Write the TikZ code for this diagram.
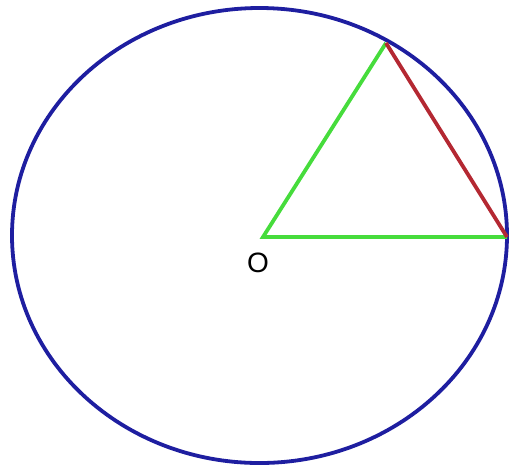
\documentclass[tikz,border=0pt]{standalone}
\usepackage{fontspec}
\setmainfont{Liberation Sans}
\definecolor{rimblue}{RGB}{30,30,160}
\definecolor{radgreen}{RGB}{70,220,60}
\definecolor{chordred}{RGB}{180,40,50}

\begin{document}
\begin{tikzpicture}[
    x=1pt, y=-1pt,
    rim/.style={draw=rimblue, line width=3.8pt},
    radius line/.style={draw=radgreen, line width=3.8pt},
    chord/.style={draw=chordred, line width=3.8pt},
    lbl/.style={font=\fontsize{28}{30}\selectfont, inner sep=0pt}
  ]
  \useasboundingbox (0,0) rectangle (510,467);

  % circle
  \draw[rim] (259.5,235.5) ellipse [x radius=247.5, y radius=227.5];

  % points
  \coordinate (center) at (263,237);
  \coordinate (top) at (386,43);
  \coordinate (right) at (507,237);

  \draw[radius line] (right) -- (center) -- (top);
  \draw[chord] (top) -- (right);

  \node[lbl] (o) at (258,263) {O};
\end{tikzpicture}
\end{document}
